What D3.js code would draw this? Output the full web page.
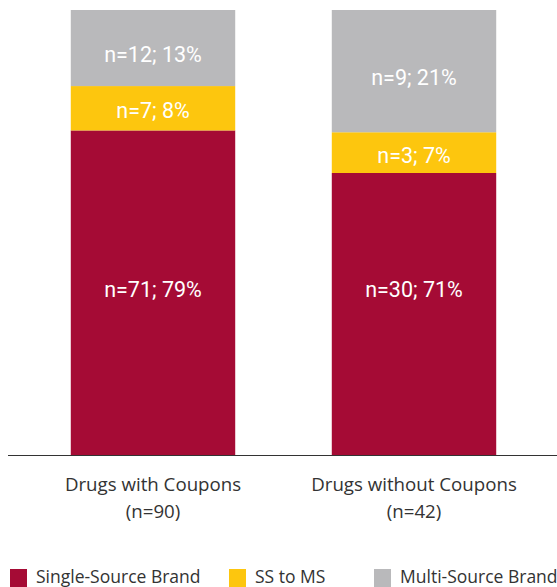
<!DOCTYPE html>
<html>
<head>
<meta charset="utf-8">
<script src="https://cdn.jsdelivr.net/npm/d3@7/dist/d3.min.js"></script>
<style>
  html, body { margin: 0; padding: 0; background: #fff; }
  svg { display: block; }
</style>
</head>
<body>
<div id="chart"></div>
<script>
"use strict";

const categories = ["Drugs with Coupons", "Drugs without Coupons"];
const categoryTotals = ["(n=90)", "(n=42)"];
const seriesNames = ["Single-Source Brand", "SS to MS", "Multi-Source Brand"];
const seriesColors = ["#A50B35", "#FDC60E", "#B9B9BB"];
const singleSourceCounts = [71, 30];
const ssToMsCounts = [7, 3];
const multiSourceCounts = [12, 9];
const singleSourcePct = [79, 71];
const ssToMsPct = [8, 7];
const multiSourcePct = [13, 21];

(function renderChart() {
  const width = 557;
  const height = 587;
  const baseY = 455;
  const topY = 10;

  const svg = d3.select("#chart")
    .append("svg")
    .attr("width", width)
    .attr("height", height)
    .attr("viewBox", `0 0 ${width} ${height}`);

  const x = d3.scaleBand()
    .domain(categories)
    .range([22.5, 544.5])
    .paddingInner(0.37)
    .paddingOuter(0.185);

  // value axis is cut off below ~22%, as in the source
  const y = d3.scaleLinear()
    .domain([22, 100])
    .range([baseY, topY])
    .clamp(true);

  // the big red labels sit at the same height in both bars
  const redLabelY = y(51);

  const rows = categories.map((cat, i) => {
    const total = singleSourceCounts[i] + ssToMsCounts[i] + multiSourceCounts[i];
    return {
      cat,
      counts: [singleSourceCounts[i], ssToMsCounts[i], multiSourceCounts[i]],
      pcts: [singleSourcePct[i], ssToMsPct[i], multiSourcePct[i]],
      total,
    };
  });

  rows.forEach((row) => {
    let acc = 0;
    row.counts.forEach((count, s) => {
      const v0 = (acc / row.total) * 100;
      acc += count;
      const v1 = (acc / row.total) * 100;
      const y0 = y(v0);
      const y1 = y(v1);

      svg.append("rect")
        .attr("x", x(row.cat))
        .attr("y", y1)
        .attr("width", x.bandwidth())
        .attr("height", y0 - y1)
        .attr("fill", seriesColors[s]);

      const labelY = s === 0 ? redLabelY : (y0 + y1) / 2 + (s === 2 ? 6 : 2.5);

      svg.append("text")
        .attr("x", x(row.cat) + x.bandwidth() / 2)
        .attr("y", labelY)
        .attr("dy", "0.36em")
        .attr("text-anchor", "middle")
        .attr("font-family", "Roboto, 'Noto Sans', sans-serif")
        .attr("font-size", 21.5)
        .attr("fill", "#ffffff")
        .text(`n=${count}; ${row.pcts[s]}%`);
    });
  });

  svg.append("line")
    .attr("x1", 8)
    .attr("x2", width)
    .attr("y1", baseY + 0.5)
    .attr("y2", baseY + 0.5)
    .attr("stroke", "#333333")
    .attr("stroke-width", 1);

  const labels = svg.selectAll("g.cat-label")
    .data(categories)
    .join("g")
    .attr("class", "cat-label")
    .attr("transform", (d) => `translate(${x(d) + x.bandwidth() / 2},0)`);

  labels.append("text")
    .attr("y", 491)
    .attr("text-anchor", "middle")
    .attr("font-family", "'Open Sans', sans-serif")
    .attr("font-size", 18.7)
    .attr("fill", "#333333")
    .text((d) => d);

  labels.append("text")
    .attr("y", 518)
    .attr("text-anchor", "middle")
    .attr("font-family", "'Open Sans', sans-serif")
    .attr("font-size", 18.7)
    .attr("fill", "#333333")
    .text((d, i) => categoryTotals[i]);

  const legendX = [10, 229, 374];
  const legend = svg.selectAll("g.legend")
    .data(seriesNames)
    .join("g")
    .attr("class", "legend")
    .attr("transform", (d, i) => `translate(${legendX[i]},569)`);

  legend.append("rect")
    .attr("width", 17)
    .attr("height", 18)
    .attr("fill", (d, i) => seriesColors[i]);

  legend.append("text")
    .attr("x", 26)
    .attr("y", 14)
    .attr("font-family", "'Open Sans', sans-serif")
    .attr("font-size", 17.5)
    .attr("fill", "#333333")
    .text((d) => d);
})();
</script>
</body>
</html>
